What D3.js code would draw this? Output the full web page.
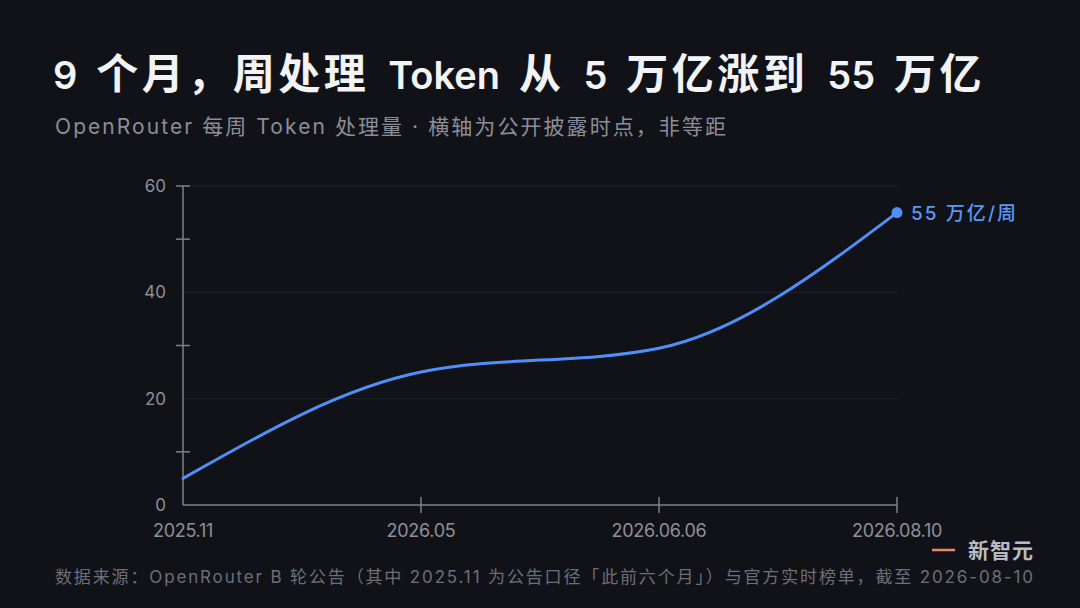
<!DOCTYPE html>
<html>
<head>
<meta charset="utf-8">
<script src="https://cdn.jsdelivr.net/npm/d3@7"></script>
<style>
  html, body { margin: 0; padding: 0; background: #111218; }
  svg { display: block; font-family: Inter, "Noto Sans CJK SC", sans-serif; }
</style>
</head>
<body>
<script>
// Chart data
const periods = ["2025.11", "2026.05", "2026.06.06", "2026.08.10"];
const weeklyTokens = [5, 25, 29.5, 55]; // 万亿 / 周
const yLabelTicks = [0, 20, 40, 60];
const yMinorTicks = [10, 30, 50, 60];
const gridTicks = [20, 40, 60];

const width = 1080, height = 608;
const plotLeft = 183, plotRight = 897, plotTop = 186, plotBottom = 505;

const svg = d3.select("body").append("svg")
    .attr("width", width)
    .attr("height", height);

svg.append("rect")
    .attr("width", width)
    .attr("height", height)
    .attr("fill", "#111218");

// CJK runs get their own size, the rest (latin, digits) another
const cjk = /[\u3000-\u9fff\uff00-\uffef]/;
function mixedText(sel, str, cjkSize, latinSize, cjkSpacing) {
    str.split(/([\u3000-\u9fff\uff00-\uffef]+)/).filter(s => s).forEach(run => {
        const isCjk = cjk.test(run);
        sel.append("tspan")
            .style("font-size", (isCjk ? cjkSize : latinSize) + "px")
            .attr("letter-spacing", isCjk && cjkSpacing ? cjkSpacing : null)
            .text(run);
    });
    return sel;
}
// spread letters so the text spans the given width
function fitWidth(sel, target) {
    const node = sel.node();
    const len = node.getComputedTextLength();
    const n = node.textContent.length;
    sel.attr("letter-spacing", (target - len) / (n - 1));
    return sel;
}
// widen the spaces only
function fitWords(sel, target) {
    const node = sel.node();
    const len = node.getComputedTextLength();
    const spaces = node.textContent.split(" ").length - 1;
    sel.attr("word-spacing", (target - len) / spaces);
    return sel;
}

// Title and subtitle
const title = svg.append("text")
    .attr("x", 53).attr("y", 89)
    .attr("fill", "#f2f3f5")
    .style("font-weight", "600");
mixedText(title, "9 个月，周处理 Token 从 5 万亿涨到 55 万亿", 42, 38, 3.5);
fitWords(title, 932);

const subtitle = svg.append("text")
    .attr("x", 55).attr("y", 134)
    .attr("fill", "#8b8e97");
mixedText(subtitle, "OpenRouter 每周 Token 处理量 · 横轴为公开披露时点，非等距", 21, 21);
fitWidth(subtitle, 671);

// Scales
const x = d3.scalePoint().domain(periods).range([plotLeft, plotRight]);
const y = d3.scaleLinear().domain([0, 60]).range([plotBottom, plotTop]);

const axisColor = "#7f818a";

// Grid lines
svg.append("g").selectAll("line")
    .data(gridTicks)
    .enter().append("line")
    .attr("x1", plotLeft).attr("x2", plotRight)
    .attr("y1", d => y(d)).attr("y2", d => y(d))
    .attr("stroke", "#1f2129")
    .attr("stroke-width", 1);

// Y axis: labels
const yAxis = svg.append("g")
    .attr("transform", `translate(${plotLeft},0)`)
    .call(d3.axisLeft(y).tickValues(yLabelTicks).tickSize(0).tickPadding(17));
yAxis.select(".domain").remove();
yAxis.selectAll("text")
    .attr("fill", "#8e9098")
    .style("font-size", "17px")
    .style("font-family", "Inter, 'Noto Sans CJK SC', sans-serif");

svg.append("line")
    .attr("x1", plotLeft).attr("x2", plotLeft)
    .attr("y1", y(0)).attr("y2", y(60))
    .attr("stroke", axisColor).attr("stroke-width", 1.5);

// Y axis: cross ticks
svg.append("g").selectAll("line")
    .data(yMinorTicks)
    .enter().append("line")
    .attr("x1", plotLeft - 7).attr("x2", plotLeft + 7)
    .attr("y1", d => y(d)).attr("y2", d => y(d))
    .attr("stroke", axisColor).attr("stroke-width", 1.5);

// X axis
svg.append("line")
    .attr("x1", plotLeft).attr("x2", plotRight)
    .attr("y1", plotBottom).attr("y2", plotBottom)
    .attr("stroke", axisColor).attr("stroke-width", 1.5);

svg.append("g").selectAll("line")
    .data(periods.slice(1))
    .enter().append("line")
    .attr("x1", d => x(d)).attr("x2", d => x(d))
    .attr("y1", plotBottom - 8).attr("y2", plotBottom + 8)
    .attr("stroke", axisColor).attr("stroke-width", 1.5);

svg.append("g").selectAll("text")
    .data(periods)
    .enter().append("text")
    .attr("x", d => x(d))
    .attr("y", 537)
    .attr("text-anchor", "middle")
    .attr("fill", "#8e9098")
    .style("font-size", "18px")
    .attr("letter-spacing", -0.3)
    .text(d => d);

// Line
const points = periods.map((p, i) => ({ period: p, value: weeklyTokens[i] }));

const line = d3.line()
    .x(d => x(d.period))
    .y(d => y(d.value))
    .curve(d3.curveMonotoneX);

svg.append("path")
    .datum(points)
    .attr("d", line)
    .attr("fill", "none")
    .attr("stroke", "#4f8ff7")
    .attr("stroke-width", 3)
    .attr("stroke-linecap", "round");

const last = points[points.length - 1];
svg.append("circle")
    .attr("cx", x(last.period))
    .attr("cy", y(last.value))
    .attr("r", 5.5)
    .attr("fill", "#4f8ff7");

const endLabel = svg.append("text")
    .attr("x", x(last.period) + 14)
    .attr("y", y(last.value) + 7)
    .attr("fill", "#5b97f5")
    .style("font-weight", "500");
mixedText(endLabel, last.value + " 万亿/周", 19, 19);
fitWidth(endLabel, 105);

// Brand
svg.append("line")
    .attr("x1", 932).attr("x2", 955)
    .attr("y1", 550).attr("y2", 550)
    .attr("stroke", "#e8896a").attr("stroke-width", 2.5);

const brand = svg.append("text")
    .attr("x", 968).attr("y", 558)
    .attr("fill", "#b9bbc2")
    .style("font-size", "21px")
    .style("font-weight", "700")
    .text("新智元");
fitWidth(brand, 65);

// Footer
const footer = svg.append("text")
    .attr("x", 55).attr("y", 583)
    .attr("fill", "#6c6f78");
mixedText(footer, "数据来源：OpenRouter B 轮公告（其中 2025.11 为公告口径「此前六个月」）与官方实时榜单，截至 2026-08-10", 17, 17);
fitWidth(footer, 978);
</script>
</body>
</html>
